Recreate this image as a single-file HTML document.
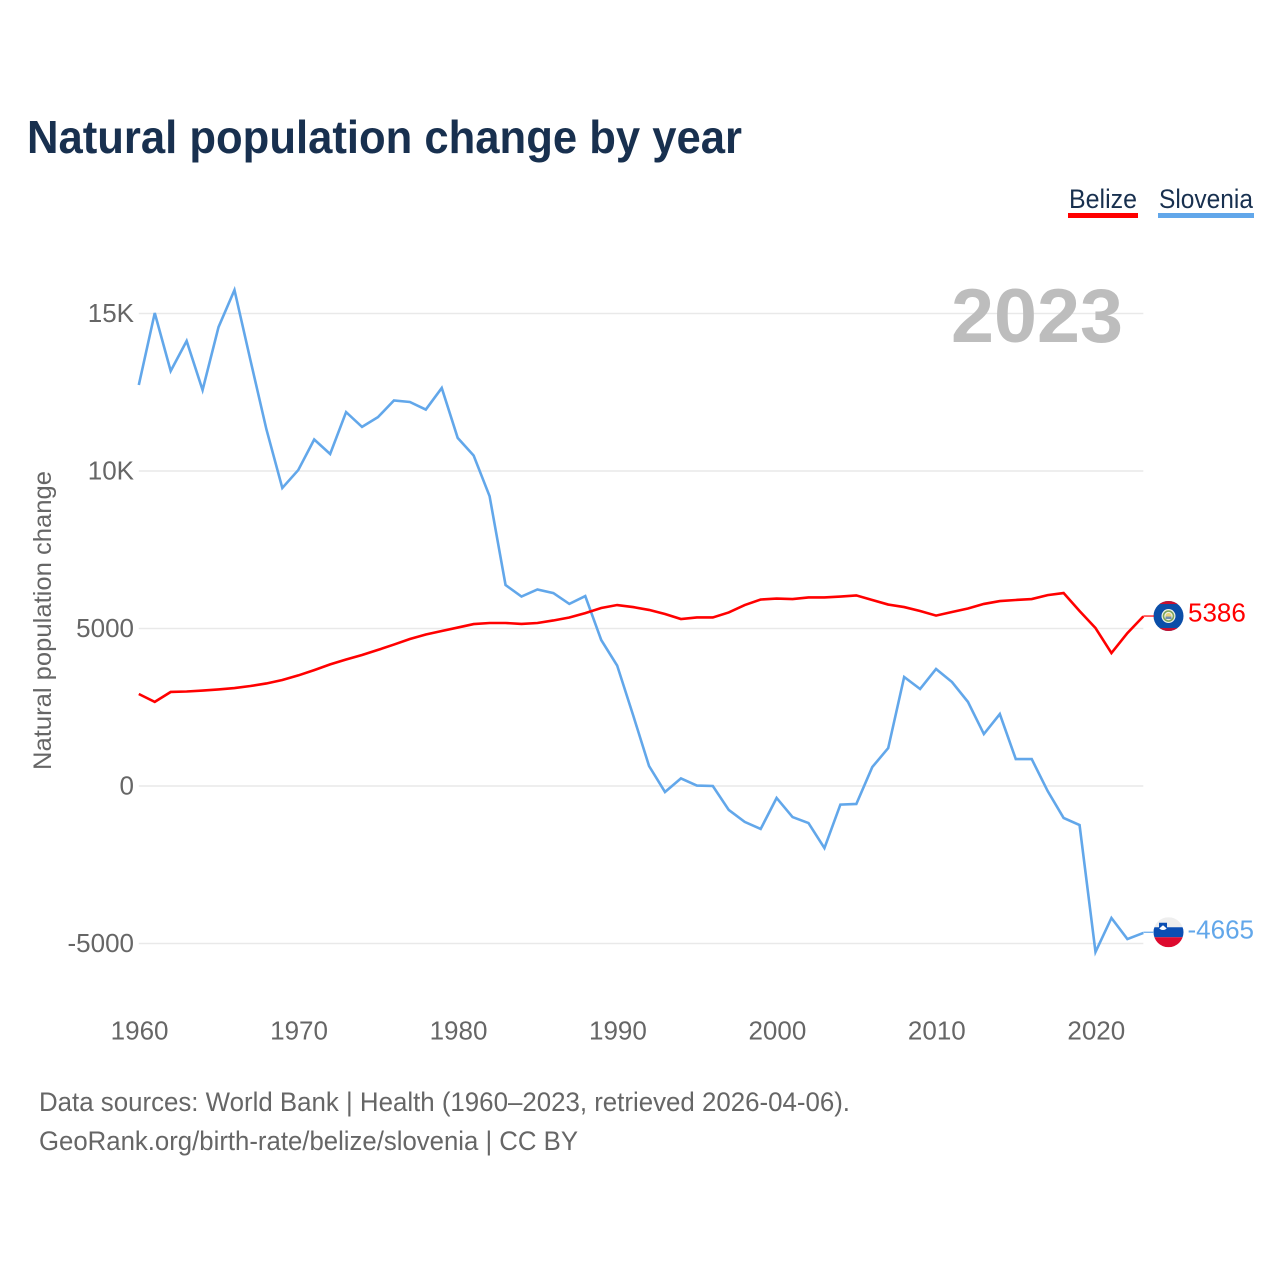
<!DOCTYPE html>
<html lang="en">
<head>
<meta charset="utf-8">
<title>Natural population change by year</title>
<style>
html,body{margin:0;padding:0;background:#fff;}
svg{display:block;font-family:"Liberation Sans",sans-serif;}
</style>
</head>
<body>
<svg id="chart" xmlns="http://www.w3.org/2000/svg" width="1280" height="1280" viewBox="0 0 1280 1280">
  <defs>
    <clipPath id="flag-clip"><circle cx="0" cy="0" r="15"></circle></clipPath>
  </defs>
  <rect x="0" y="0" width="1280" height="1280" fill="#ffffff"></rect>
  <text x="27" y="153" font-size="46" font-weight="700" fill="#18304f" textLength="715" lengthAdjust="spacingAndGlyphs">Natural population change by year</text>

  <g>
    <text x="1069" y="208" font-size="27" fill="#18304f" textLength="68" lengthAdjust="spacingAndGlyphs">Belize</text>
    <rect x="1068" y="213" width="70" height="5" fill="#ff0000"></rect>
  </g>
  <g>
    <text x="1159" y="208" font-size="27" fill="#18304f" textLength="94" lengthAdjust="spacingAndGlyphs">Slovenia</text>
    <rect x="1158" y="213" width="96" height="5" fill="#62a7ea"></rect>
  </g>

  <g id="grid"></g>
  <g id="y-ticks"></g>
  <g id="x-ticks"></g>

  <text transform="translate(51,770) rotate(-90)" font-size="25" fill="#666666" textLength="299" lengthAdjust="spacingAndGlyphs">Natural population change</text>

  <text x="951" y="342" font-size="76" font-weight="700" fill="#bdbdbd" textLength="172" lengthAdjust="spacingAndGlyphs">2023</text>

  <g id="series"></g>

  <g id="flag-belize">
    <g clip-path="url(#flag-clip)">
      <rect x="-15" y="-15" width="30" height="30" fill="#0b4ea8"></rect>
      <rect x="-15" y="-15" width="30" height="3" fill="#c8102e"></rect>
      <rect x="-15" y="12" width="30" height="3" fill="#c8102e"></rect>
    </g>
    <circle cx="0" cy="0" r="7" fill="#eef2e8"></circle>
    <circle cx="0" cy="0" r="5" fill="none" stroke="#7fa65a" stroke-width="1.6"></circle>
    <circle cx="0" cy="0" r="3" fill="#e8d27a"></circle>
    <rect x="-3" y="0.5" width="6" height="2.5" fill="#6f8fb0"></rect>
  </g>
  <g id="flag-slovenia">
    <g clip-path="url(#flag-clip)">
      <rect x="-15" y="-15" width="30" height="10" fill="#eeeeee"></rect>
      <rect x="-15" y="-5" width="30" height="10" fill="#0b4eb3"></rect>
      <rect x="-15" y="5" width="30" height="10" fill="#dd0a2e"></rect>
      <path d="M-9.5,-9.5 H-1.5 V-4 Q-1.5,-1.5 -5.5,-0.5 Q-9.5,-1.5 -9.5,-4 Z" fill="#0b4eb3"></path>
      <path d="M-9,-4 L-5.5,-7 L-2,-4 V-3.5 Q-5.5,-1 -9,-3.5 Z" fill="#ffffff"></path>
    </g>
  </g>

  <g id="end-labels"></g>

  <text x="39" y="1111" font-size="27" fill="#666666" textLength="811" lengthAdjust="spacingAndGlyphs">Data sources: World Bank | Health (1960–2023, retrieved 2026-04-06).</text>
  <text x="39" y="1150" font-size="27" fill="#666666" textLength="539" lengthAdjust="spacingAndGlyphs">GeoRank.org/birth-rate/belize/slovenia | CC BY</text>
</svg>
<script>
const firstYear = 1960;
const yTickValues = [15000, 10000, 5000, 0, -5000];
const yTickLabels = ["15K", "10K", "5000", "0", "-5000"];
const xTickYears = [1960, 1970, 1980, 1990, 2000, 2010, 2020];
const belizeValues = [2920,2670,2985,3000,3030,3065,3110,3175,3255,3365,3510,3680,3860,4015,4160,4320,4490,4665,4810,4920,5030,5140,5175,5175,5145,5175,5255,5350,5490,5650,5745,5680,5590,5460,5300,5350,5350,5510,5745,5920,5950,5935,5985,5985,6015,6050,5905,5760,5680,5555,5410,5525,5635,5780,5870,5905,5935,6060,6125,5555,5015,4220,4855,5386];
const sloveniaValues = [12730,15015,13175,14127,12570,14570,15746,13520,11330,9460,10030,11000,10540,11870,11400,11710,12240,12190,11950,12635,11050,10490,9200,6380,6015,6240,6125,5780,6030,4635,3825,2250,635,-190,240,15,0,-760,-1140,-1365,-380,-985,-1175,-1970,-590,-570,600,1205,3460,3080,3715,3300,2670,1650,2285,855,855,-160,-1015,-1240,-5270,-4190,-4860,-4665];

const NS = "http://www.w3.org/2000/svg";
function xScale(year) { return 138.8 + (year - 1960) * 15.945; }
function yScale(value) { return 786 - value * 0.0315; }
function make(tag, attrs, text) {
  const el = document.createElementNS(NS, tag);
  for (const k in attrs) el.setAttribute(k, attrs[k]);
  if (text !== undefined) el.textContent = text;
  return el;
}

const gridGroup = document.getElementById("grid");
const yTickGroup = document.getElementById("y-ticks");
const xTickGroup = document.getElementById("x-ticks");
const seriesGroup = document.getElementById("series");
const endLabelGroup = document.getElementById("end-labels");
const plotRight = xScale(firstYear + belizeValues.length - 1);

yTickValues.forEach(function (v, i) {
  const line = make("line", {x1: xScale(firstYear), x2: plotRight, y1: yScale(v), y2: yScale(v), stroke: "#e9e9e9", "stroke-width": 1.4});
  
  
  gridGroup.appendChild(line);
  const label = make("text", {x: 134, y: yScale(v) + 8.5, "text-anchor": "end", "font-size": 26, fill: "#666666"}, yTickLabels[i]);
  
  
  yTickGroup.appendChild(label);
});

xTickYears.forEach(function (year) {
  const label = make("text", {x: xScale(year) + 0.8, y: 1039.5, "text-anchor": "middle", "font-size": 26, fill: "#666666"}, String(year));
  
  
  xTickGroup.appendChild(label);
});

function linePoints(values) {
  return values.map(function (v, i) { return xScale(firstYear + i).toFixed(2) + "," + yScale(v).toFixed(2); }).join(" ");
}

const sloveniaLine = make("polyline", {points: linePoints(sloveniaValues), fill: "none", stroke: "#62a7ea", "stroke-width": 2.6, "stroke-linejoin": "miter"});


seriesGroup.appendChild(sloveniaLine);

const belizeLine = make("polyline", {points: linePoints(belizeValues), fill: "none", stroke: "#ff0000", "stroke-width": 2.6, "stroke-linejoin": "miter"});


seriesGroup.appendChild(belizeLine);

const belizeLast = belizeValues[belizeValues.length - 1];
const sloveniaLast = sloveniaValues[sloveniaValues.length - 1];

document.getElementById("flag-belize").setAttribute("transform", "translate(1168.5," + (yScale(belizeLast) - 0.3) + ")");
document.getElementById("flag-slovenia").setAttribute("transform", "translate(1168.5," + (yScale(sloveniaLast) - 0.7) + ")");

const belizeConnector = make("line", {x1: plotRight, x2: 1154, y1: yScale(belizeLast) - 0.3, y2: yScale(belizeLast) - 0.3, stroke: "#ff0000", "stroke-width": 1.2});


endLabelGroup.appendChild(belizeConnector);

const sloveniaConnector = make("line", {x1: plotRight, x2: 1154, y1: yScale(sloveniaLast) - 0.7, y2: yScale(sloveniaLast) - 0.7, stroke: "#62a7ea", "stroke-width": 1.2});


endLabelGroup.appendChild(sloveniaConnector);

const belizeEnd = make("text", {x: 1188, y: yScale(belizeLast) + 5.2, "font-size": 26, fill: "#ff0000"}, String(belizeLast));


endLabelGroup.appendChild(belizeEnd);

const sloveniaEnd = make("text", {x: 1187.5, y: yScale(sloveniaLast) + 5.5, "font-size": 26, fill: "#62a7ea"}, String(sloveniaLast));


endLabelGroup.appendChild(sloveniaEnd);
</script>
</body>
</html>
